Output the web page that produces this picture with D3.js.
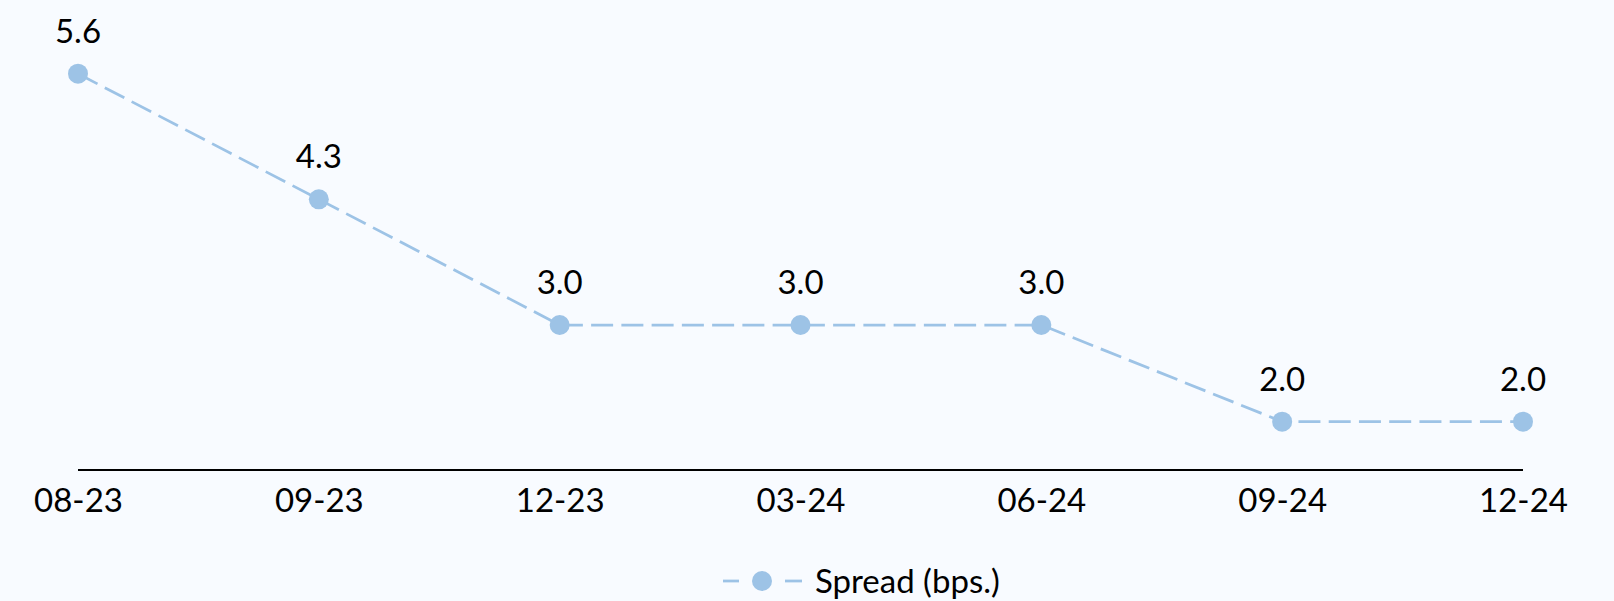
<!DOCTYPE html>
<html>
<head>
<meta charset="utf-8">
<script src="https://cdn.jsdelivr.net/npm/d3@7"></script>
<style>
  html, body { margin: 0; padding: 0; background: #F8FBFF; }
  svg { display: block; }
  text { font-family: Lato, "Noto Sans", sans-serif; fill: #000; }
</style>
</head>
<body>
<svg id="chart" width="1614" height="601"></svg>
<script>
// Quarterly spread readings
const categories = ["08-23", "09-23", "12-23", "03-24", "06-24", "09-24", "12-24"];
const spread = [5.6, 4.3, 3.0, 3.0, 3.0, 2.0, 2.0];
const seriesName = "Spread (bps.)";

const width = 1614, height = 601;
const lineColor = "#9DC3E6";
const fontSize = 33;

const svg = d3.select("#chart");
svg.append("rect").attr("width", width).attr("height", height).attr("fill", "#F8FBFF");

const x = d3.scalePoint().domain(categories).range([78, 1523]);
const y = d3.scaleLinear().domain([1.5, 6]).range([470, 35]);

const data = categories.map((c, i) => ({ c, v: spread[i] }));

// Category axis along the bottom of the plot
const axis = svg.append("g")
  .attr("transform", `translate(0,${y(1.5)})`)
  .call(d3.axisBottom(x).tickSize(0).tickPadding(0));
axis.select(".domain").attr("stroke", "#000").attr("stroke-width", 2)
  .attr("d", `M${x(categories[0])},0H${x(categories[categories.length - 1])}`);
axis.selectAll(".tick text")
  .attr("font-size", fontSize)
  .attr("font-family", "Lato, 'Noto Sans', sans-serif")
  .attr("dy", null)
  .attr("y", 42);

// Dashed series line
svg.append("path")
  .datum(data)
  .attr("fill", "none")
  .attr("stroke", lineColor)
  .attr("stroke-width", 2.75)
  .attr("stroke-dasharray", "22 8.25")
  .attr("d", d3.line().x(d => x(d.c)).y(d => y(d.v)));

// Markers
svg.append("g").selectAll("circle")
  .data(data).join("circle")
  .attr("cx", d => x(d.c))
  .attr("cy", d => y(d.v))
  .attr("r", 10)
  .attr("fill", lineColor);

// Value labels above each point
svg.append("g").selectAll("text")
  .data(data).join("text")
  .attr("x", d => x(d.c))
  .attr("y", d => y(d.v) - 31)
  .attr("text-anchor", "middle")
  .attr("font-size", fontSize)
  .text(d => d3.format(".1f")(d.v));

// Legend
const legend = svg.append("g").attr("transform", "translate(762,581)");
legend.append("line").attr("x1", -39).attr("x2", -23).attr("stroke", lineColor).attr("stroke-width", 2.75);
legend.append("line").attr("x1", 23).attr("x2", 40).attr("stroke", lineColor).attr("stroke-width", 2.75);
legend.append("circle").attr("r", 10).attr("fill", lineColor);
legend.append("text").attr("x", 53).attr("y", 12).attr("font-size", fontSize).text(seriesName);
</script>
</body>
</html>
